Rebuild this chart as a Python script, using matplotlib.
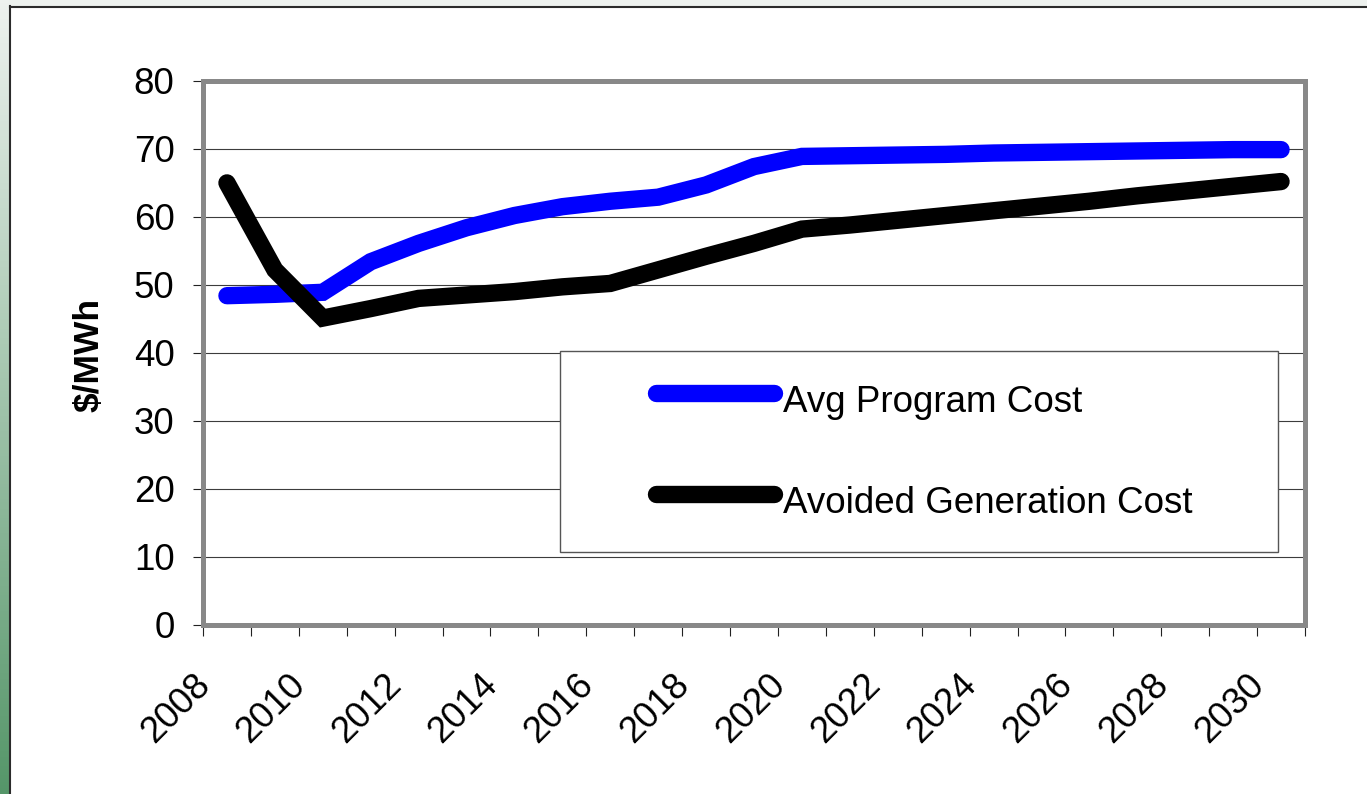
import numpy as np
import matplotlib.pyplot as plt
from matplotlib.lines import Line2D
from matplotlib.patches import Rectangle
from matplotlib.transforms import ScaledTranslation

plt.rcParams['font.family'] = ['Liberation Sans', 'DejaVu Sans']

# data
years = [2008, 2009, 2010, 2011, 2012, 2013, 2014, 2015, 2016, 2017, 2018, 2019,
         2020, 2021, 2022, 2023, 2024, 2025, 2026, 2027, 2028, 2029, 2030]
avg_program_cost = [48.4, 48.6, 48.9, 53.4, 56.1, 58.4, 60.2, 61.5, 62.3, 62.9, 64.7, 67.4,
                    68.9, 69.0, 69.1, 69.2, 69.4, 69.5, 69.6, 69.7, 69.8, 69.9, 69.9]
avoided_generation_cost = [65.0, 52.2, 45.1, 46.5, 48.0, 48.5, 49.0, 49.7, 50.2, 52.2, 54.2, 56.1,
                           58.2, 58.8, 59.5, 60.2, 60.9, 61.6, 62.3, 63.1, 63.8, 64.5, 65.2]
series_labels = ['Avg Program Cost', 'Avoided Generation Cost']
series_colors = ['#0000ff', '#000000']
y_ticks = [0, 10, 20, 30, 40, 50, 60, 70, 80]

W, H = 1367, 794
fig = plt.figure(figsize=(W / 100, H / 100), dpi=100)
fig.patch.set_facecolor('white')

# slide decoration: green strip on the left, pale strip on top
strip = fig.add_axes([0, 0, 9 / W, 1])
t = np.linspace(0, 1, 256)[:, None]
top_c = np.array([0xee, 0xf2, 0xef]) / 255
bot_c = np.array([0x55, 0x96, 0x69]) / 255
grad = top_c[None, None, :] * (1 - t[..., None]) + bot_c[None, None, :] * t[..., None]
strip.imshow(grad, aspect='auto', extent=[0, 1, 0, 1], origin='upper')
strip.axis('off')
top = fig.add_axes([9 / W, 1 - 6 / H, 1 - 9 / W, 6 / H])
top.set_facecolor('#edf1ee')
top.set_xticks([])
top.set_yticks([])
for s in top.spines.values():
    s.set_visible(False)
fig.add_artist(Line2D([9.5 / W, 9.5 / W], [0, 1 - 6 / H], transform=fig.transFigure, color='#2b2b2b', lw=1.5))
fig.add_artist(Line2D([9.5 / W, 1], [1 - 6.5 / H, 1 - 6.5 / H], transform=fig.transFigure, color='#2b2b2b', lw=1.5))

ax = fig.add_axes([203 / W, 169.5 / H, 1102 / W, 543.5 / H])
x = np.arange(len(years))
for vals, color in zip([avg_program_cost, avoided_generation_cost], series_colors):
    ax.plot(x, vals, color=color, lw=12.5, solid_capstyle='round', solid_joinstyle='miter', zorder=3)

ax.set_xlim(-0.5, len(years) - 0.5)
ax.set_ylim(0, 80)
ax.set_yticks(y_ticks)
ax.yaxis.grid(True, color='#3c3c3c', lw=0.8)
ax.set_axisbelow(True)

ax.set_xticks(x[::2])
ax.set_xticklabels([str(y) for y in years[::2]], rotation=45, ha='right', va='top')
ax.set_xticks(np.arange(-0.5, len(years)), minor=True)
ax.tick_params(axis='x', which='major', length=0, pad=31, labelsize=26.5)
ax.tick_params(axis='x', which='minor', direction='out', length=8, width=0.8, color='#222222')
ax.tick_params(axis='y', direction='out', length=7.5, width=0.8, color='#222222', pad=13, labelsize=26.5)
shift = ScaledTranslation(-10 / 100, 0, fig.dpi_scale_trans)
for lab in ax.get_xticklabels():
    lab.set_transform(lab.get_transform() + shift)

for s in ax.spines.values():
    s.set_color('#888888')
    s.set_linewidth(3.6)
ax.axvline(-0.5, color='#222222', lw=0.9, zorder=2.5, clip_on=False)
ax.axhline(0, color='#222222', lw=0.9, zorder=2.5, clip_on=False)

ax.set_ylabel('$/MWh', fontsize=25.5, fontweight='bold', va='center')
ax.yaxis.set_label_coords(-0.1030, 0.496)

# legend box drawn by hand to match the wide Excel legend
ax.add_patch(Rectangle((0.324, 0.1334), 0.9755 - 0.324, 0.503 - 0.1334, transform=ax.transAxes,
                       facecolor='white', edgecolor='#555555', lw=1, zorder=4))
for lab, color, yl, yt in zip(series_labels, series_colors, [0.426, 0.240], [0.3909, 0.2059]):
    ax.add_line(Line2D([0.4107, 0.5178], [yl, yl], transform=ax.transAxes, color=color, lw=12.5,
                       solid_capstyle='round', zorder=5))
    ax.text(0.5263, yt, lab, transform=ax.transAxes, fontsize=26.5, ha='left', va='baseline', zorder=5)

fig.savefig('out.png', dpi=100)
